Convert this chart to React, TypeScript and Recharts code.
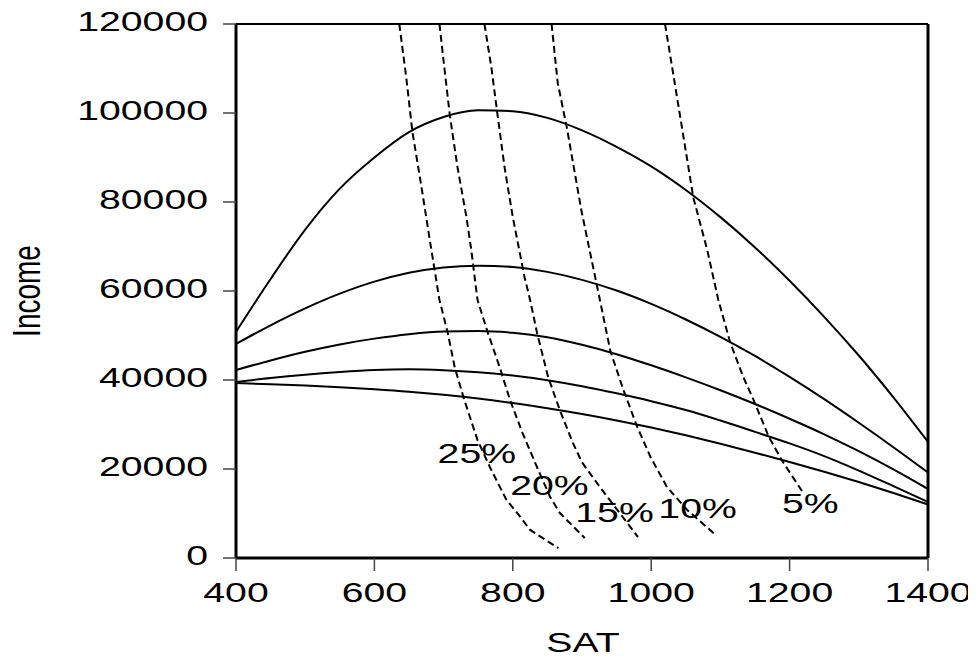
import React from 'react';
import { ComposedChart, Line, XAxis, YAxis, ReferenceLine, ReferenceDot, Customized } from 'recharts';

// ---- axis ticks ----
const satTicks = [400, 600, 800, 1000, 1200, 1400];
const incomeTicks = [0, 20000, 40000, 60000, 80000, 100000, 120000];

// ---- solid income curves (sampled on a common SAT grid) ----
const satGrid = [400, 450, 500, 550, 600, 650, 700, 750, 800, 850, 900, 950, 1000, 1050, 1100, 1150, 1200, 1250, 1300, 1350, 1400];
const incomeCurve1 = [50800, 62700, 73800, 83000, 90000, 95700, 99100, 100600, 100400, 98900, 96100, 92400, 88000, 82700, 76600, 69800, 62300, 54200, 45500, 36100, 26100];
const incomeCurve2 = [48100, 52300, 56100, 59400, 62100, 64100, 65300, 65700, 65400, 64300, 62500, 60100, 57100, 53600, 49700, 45400, 40700, 35700, 30400, 24900, 19200];
const incomeCurve3 = [42240, 44400, 46350, 48000, 49300, 50300, 50900, 51000, 50600, 49600, 47900, 45800, 43300, 40600, 37700, 34600, 31300, 27800, 24000, 19900, 15500];
const incomeCurve4 = [39550, 40450, 41200, 41800, 42250, 42400, 42200, 41750, 41000, 39950, 38600, 37000, 35240, 33250, 30890, 28350, 25750, 22900, 19650, 16150, 12580];
const incomeCurve5 = [39300, 39050, 38750, 38370, 37920, 37370, 36670, 35820, 34820, 33670, 32370, 30920, 29320, 27570, 25670, 23670, 21570, 19370, 17070, 14620, 12020];

// ---- dashed iso-percentage curves ----
const sat25 = [636, 646, 655, 668, 680, 694, 706, 716, 730, 749, 767, 791, 808, 825, 866];
const inc25 = [120000, 108000, 95700, 83400, 71500, 58000, 50600, 42900, 35500, 26500, 20400, 13000, 9800, 6300, 2200];
const sat20 = [694, 701, 709, 720, 733, 740, 749, 764, 781, 796, 814, 835, 854, 868, 904];
const inc20 = [120000, 110300, 99500, 87900, 76600, 69200, 58000, 50600, 42900, 35500, 28100, 20400, 13700, 10100, 4500];
const sat15 = [759, 769, 777, 788, 800, 817, 825, 835, 851, 868, 887, 900, 926, 951, 981];
const inc15 = [120000, 110300, 100700, 87900, 76600, 63100, 58000, 50600, 40700, 33200, 25800, 21500, 15900, 10800, 4700];
const sat10 = [856, 865, 878, 899, 924, 941, 960, 980, 999, 1023, 1052, 1093];
const inc10 = [120000, 106700, 96800, 78200, 59400, 46500, 37700, 29400, 22700, 15900, 10800, 5200];
const sat5 = [1020, 1038, 1061, 1081, 1097, 1114, 1133, 1148, 1170, 1191, 1219];
const inc5 = [120000, 102900, 80900, 69200, 58000, 48500, 40700, 35500, 27200, 21400, 14800];

// ---- curve annotations ----
const pctLabels = ['25%', '20%', '15%', '10%', '5%'];
const pctLabelSat = [748, 853, 947, 1067, 1230];
const pctLabelIncome = [21350, 14160, 8090, 8990, 10110];

const solidSeries = [incomeCurve1, incomeCurve2, incomeCurve3, incomeCurve4, incomeCurve5].map((vals) =>
  satGrid.map((s, i) => ({ sat: s, income: vals[i] }))
);
const dashedSeries = [
  [sat25, inc25],
  [sat20, inc20],
  [sat15, inc15],
  [sat10, inc10],
  [sat5, inc5],
].map(([s, v]) => s.map((x, i) => ({ sat: x, income: v[i] })));

const FONT = '"Liberation Sans", Arial, Helvetica, sans-serif';
const SX = 1.4;
const FS = 28;

function XTick(props: any) {
  const { x, y, payload } = props;
  return (
    <text
      transform={`translate(${x},${y + 29}) scale(${SX},1)`}
      textAnchor="middle"
      fontFamily={FONT}
      fontSize={FS}
      fill="#000"
    >
      {payload.value}
    </text>
  );
}

function YTick(props: any) {
  const { x, y, payload } = props;
  return (
    <text
      transform={`translate(${x - 13},${y + 7}) scale(${SX},1)`}
      textAnchor="end"
      fontFamily={FONT}
      fontSize={FS}
      fill="#000"
    >
      {payload.value}
    </text>
  );
}

function AxisTitles() {
  return (
    <g>
      <text
        transform={`translate(32,283) scale(${SX},1) rotate(-90)`}
        textAnchor="middle"
        fontFamily={FONT}
        fontSize={FS}
        fill="#000"
      >
        Income
      </text>
      <text
        transform={`translate(575,644) scale(${SX},1)`}
        textAnchor="middle"
        fontFamily={FONT}
        fontSize={FS}
        fill="#000"
      >
        SAT
      </text>
    </g>
  );
}

export default function App() {
  return (
    <div style={{ width: 960, height: 647 }}>
      <style>{'svg.recharts-surface{overflow:visible}'}</style>
      <ComposedChart
        width={960}
        height={647}
        margin={{ top: 16, right: 40, bottom: 0, left: 0 }}
      >
        <XAxis
          dataKey="sat"
          type="number"
          domain={[400, 1400]}
          ticks={satTicks}
          allowDataOverflow
          height={97}
          tickSize={13}
          tickMargin={2}
          axisLine={{ stroke: '#000', strokeWidth: 3 }}
          tickLine={{ stroke: '#444', strokeWidth: 1.5 }}
          tick={<XTick />}
          interval={0}
        />
        <YAxis
          dataKey="income"
          type="number"
          domain={[0, 120000]}
          ticks={incomeTicks}
          allowDataOverflow
          width={228}
          tickSize={13}
          tickMargin={2}
          axisLine={{ stroke: '#000', strokeWidth: 3 }}
          tickLine={{ stroke: '#444', strokeWidth: 1.5 }}
          tick={<YTick />}
          interval={0}
        />
        <ReferenceLine y={120000} stroke="#000" strokeWidth={2} />
        <ReferenceLine x={1400} stroke="#000" strokeWidth={3} />
        {solidSeries.map((d, i) => (
          <Line
            key={`solid${i}`}
            data={d}
            dataKey="income"
            type="monotone"
            stroke="#000"
            strokeWidth={2}
            dot={false}
            activeDot={false}
            isAnimationActive={false}
          />
        ))}
        {dashedSeries.map((d, i) => (
          <Line
            key={`dash${i}`}
            data={d}
            dataKey="income"
            type="linear"
            stroke="#000"
            strokeWidth={2}
            strokeDasharray="7 4"
            dot={false}
            activeDot={false}
            isAnimationActive={false}
          />
        ))}
        {pctLabels.map((t, i) => (
          <ReferenceDot
            key={`lbl${i}`}
            x={pctLabelSat[i]}
            y={pctLabelIncome[i]}
            r={0}
            shape={(p: any) => (
              <text
                transform={`translate(${p.cx},${p.cy}) scale(${SX},1)`}
                textAnchor="middle"
                fontFamily={FONT}
                fontSize={FS}
                fill="#000"
              >
                {t}
              </text>
            )}
          />
        ))}
        <Customized component={AxisTitles} />
      </ComposedChart>
    </div>
  );
}
